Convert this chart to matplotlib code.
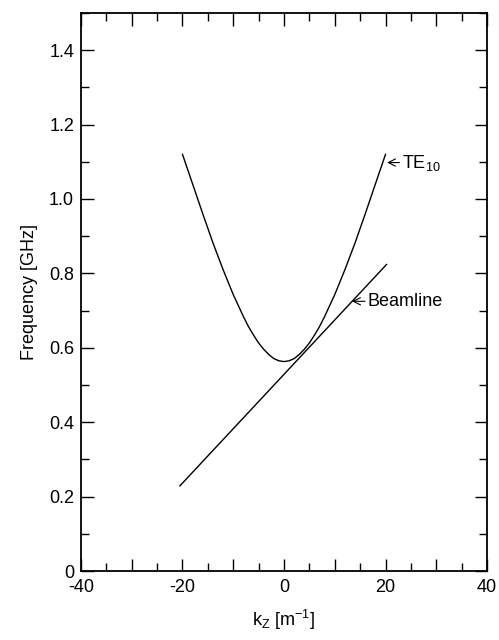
import matplotlib
matplotlib.use("Agg")
import matplotlib.pyplot as plt
from matplotlib.ticker import MultipleLocator

plt.rcParams['font.family'] = ['Liberation Sans', 'DejaVu Sans']

# TE10 dispersion curve
kz_te = [-20, -18, -16, -14, -12, -10, -8, -7, -6, -5, -4, -3, -2, -1, 0,
         1, 2, 3, 4, 5, 6, 7, 8, 10, 12, 14, 16, 18, 20]
f_te = [1.12, 1.04, 0.96, 0.882, 0.81, 0.743, 0.684, 0.657, 0.634, 0.613,
        0.596, 0.582, 0.571, 0.565, 0.563,
        0.565, 0.571, 0.582, 0.596, 0.613, 0.634, 0.657, 0.684,
        0.743, 0.81, 0.882, 0.96, 1.04, 1.12]

# beam line end points
kz_beam = [-20.5, 20.2]
f_beam = [0.229, 0.824]

x_ticks = [-40, -30, -20, -10, 0, 10, 20, 30, 40]
x_labels = ['-40', '', '-20', '', '0', '', '20', '', '40']
y_ticks = [0, 0.2, 0.4, 0.6, 0.8, 1.0, 1.2, 1.4]
y_labels = ['0', '0.2', '0.4', '0.6', '0.8', '1.0', '1.2', '1.4']

fig = plt.figure(figsize=(4.99, 6.4), dpi=100)
ax = fig.add_axes([0.1623, 0.1078, 0.8137, 0.8719])

ax.plot(kz_te, f_te, color='black', lw=1.0)
ax.plot(kz_beam, f_beam, color='black', lw=1.0)

ax.set_xlim(-40, 40)
ax.set_ylim(0, 1.5)
ax.set_xticks(x_ticks)
ax.set_xticklabels(x_labels)
ax.set_yticks(y_ticks)
ax.set_yticklabels(y_labels)
ax.xaxis.set_minor_locator(MultipleLocator(5))
ax.yaxis.set_minor_locator(MultipleLocator(0.1))

ax.tick_params(which='both', direction='in', top=True, right=True,
               labelsize=13, width=1.0)
ax.tick_params(which='major', length=9, pad=5)
ax.tick_params(axis='x', which='major', pad=6)
ax.tick_params(which='minor', length=5.5)
for s in ax.spines.values():
    s.set_linewidth(1.3)

ax.set_ylabel('Frequency [GHz]', fontsize=13, labelpad=8)
ax.set_xlabel('k$_\\mathregular{Z}$ [m$^\\mathregular{-1}$]', fontsize=13, labelpad=8)

arr = dict(arrowstyle='->', color='black', lw=0.8, shrinkA=0, shrinkB=0)
ax.annotate('TE$_\\mathregular{10}$', xy=(20.3, 1.098), xytext=(23.3, 1.098),
            fontsize=13, va='center', arrowprops=arr)
ax.annotate('Beamline', xy=(13.4, 0.725), xytext=(16.5, 0.725),
            fontsize=13, va='center', arrowprops=arr)

fig.savefig('out.png', dpi=100)
